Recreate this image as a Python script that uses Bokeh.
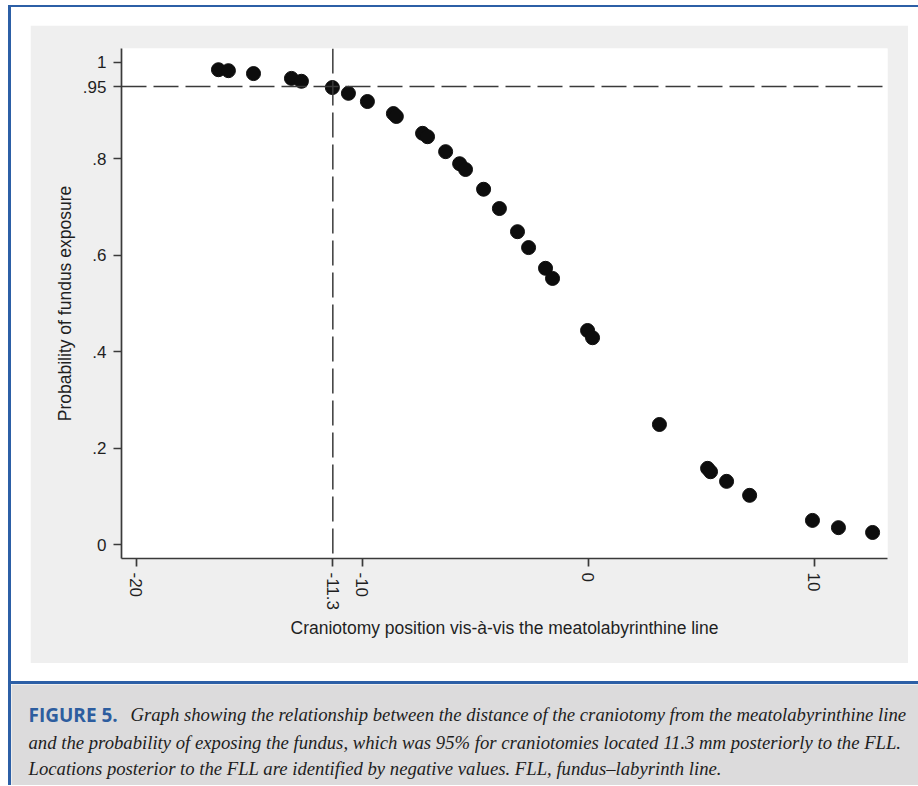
from bokeh.plotting import figure
from bokeh.layouts import row, column
from bokeh.models import Span, Label, FixedTicker, ColumnDataSource, Range1d, Spacer, Div
from bokeh.embed import file_html
from bokeh.resources import INLINE

# ---- data ----
position_mm = [-16.36, -15.92, -14.81, -13.13, -12.69, -11.32, -10.61, -9.77, -8.62, -8.49,
               -7.33, -7.11, -6.31, -5.69, -5.43, -4.63, -3.93, -3.13, -2.64, -1.89,
               -1.58, -0.03, 0.19, 3.15, 5.28, 5.41, 6.12, 7.14, 9.92, 11.07, 12.58]
probability = [0.985, 0.983, 0.977, 0.967, 0.961, 0.948, 0.936, 0.919, 0.894, 0.888,
               0.853, 0.846, 0.815, 0.790, 0.778, 0.737, 0.697, 0.649, 0.616, 0.573,
               0.552, 0.444, 0.429, 0.249, 0.158, 0.151, 0.131, 0.102, 0.050, 0.035, 0.025]
threshold_probability = 0.95
threshold_position = -11.3
x_ticks = [-20, -11.3, -10, 0, 10]
x_tick_labels = ["-20", "-11.3", "-10", "0", "10"]
y_ticks = [0, 0.2, 0.4, 0.6, 0.8, 0.95, 1]
y_tick_labels = ["0", ".2", ".4", ".6", ".8", ".95", "1"]
x_title = "Craniotomy position vis-\u00e0-vis the meatolabyrinthine line"
y_title = "Probability of fundus exposure"
caption_head = "FIGURE 5."
caption_lines = [
    "Graph showing the relationship between the distance of the craniotomy from the meatolabyrinthine line",
    "and the probability of exposing the fundus, which was 95% for craniotomies located 11.3 mm posteriorly to the FLL.",
    "Locations posterior to the FLL are identified by negative values. FLL, fundus\u2013labyrinth line.",
]

PANEL = "#efefef"
CAPTION_BG = "#dcdbdc"
BLUE = "#2c5fa6"
AXIS = "#3a3a3a"
TEXT = "#1f1f1f"
FONT = "Liberation Sans"

# ---- chart panel ----
p = figure(width=878, height=638,
           x_range=Range1d(-20.65, 13.24), y_range=Range1d(-0.029, 1.029),
           output_backend="svg", toolbar_location=None,
           min_border_left=91, min_border_right=21, min_border_top=23, min_border_bottom=105,
           border_fill_color=PANEL, background_fill_color="white", outline_line_color=None)
p.grid.visible = False

p.add_layout(Span(location=threshold_probability, dimension="width",
                  line_color=AXIS, line_width=1.5, line_dash="25 7"))
p.add_layout(Span(location=threshold_position, dimension="height",
                  line_color=AXIS, line_width=1.5, line_dash="25 7"))

src = ColumnDataSource(dict(x=position_mm, y=probability))
p.scatter("x", "y", source=src, size=14, fill_color="#0d0d0d", line_color="#0d0d0d")

p.xaxis.ticker = FixedTicker(ticks=x_ticks)
p.xaxis.major_label_overrides = dict(zip(x_ticks, x_tick_labels))
p.yaxis.ticker = FixedTicker(ticks=y_ticks)
p.yaxis.major_label_overrides = dict(zip(y_ticks, y_tick_labels))
p.xaxis.major_label_orientation = "vertical"
p.xaxis.axis_label = x_title
p.yaxis.axis_label = y_title
for ax in (p.xaxis[0], p.yaxis[0]):
    ax.axis_line_color = AXIS
    ax.axis_line_width = 1.7
    ax.major_tick_line_color = AXIS
    ax.major_tick_line_width = 1.7
    ax.major_tick_out = 8
    ax.major_tick_in = 0
    ax.minor_tick_line_color = None
    ax.major_label_text_font = FONT
    ax.major_label_text_font_size = "17px"
    ax.major_label_text_color = TEXT
    ax.axis_label_text_font = FONT
    ax.axis_label_text_font_size = "17.5px"
    ax.axis_label_text_font_style = "normal"
    ax.axis_label_text_color = TEXT
p.xaxis.major_label_standoff = 6
p.yaxis.major_label_standoff = 7
p.xaxis.axis_label_standoff = 5
p.yaxis.axis_label_standoff = 5

# ---- caption panel ----
CAP_W, CAP_H = 907, 101
cap = figure(width=CAP_W, height=CAP_H, x_range=Range1d(0, CAP_W), y_range=Range1d(CAP_H, 0),
             x_axis_type=None, y_axis_type=None, output_backend="svg", toolbar_location=None,
             min_border=0, border_fill_color=CAPTION_BG, background_fill_color=CAPTION_BG,
             outline_line_color=None)
cap.grid.visible = False
cap.add_layout(Label(x=17, y=30, text=caption_head, text_font="Open Sans", text_font_style="bold",
                     text_font_size="19px", text_color="#2d5d9f", text_baseline="alphabetic"))
cap_pos = [(119, 30), (17, 58), (17, 84)]
for (cx, cy), line in zip(cap_pos, caption_lines):
    cap.add_layout(Label(x=cx, y=cy, text=line, text_font="Liberation Serif",
                         text_font_style="italic", text_font_size="18.7px",
                         text_color="#1e1e1e", text_baseline="alphabetic"))

# ---- page frame: blue rules and white margins ----
top_rule = Div(text="", width=910, height=2, margin=0, styles={"background-color": BLUE})
left_bar = Div(text="", width=3, height=778, margin=0, styles={"background-color": BLUE})
cap_rule = Div(text="", width=CAP_W, height=3, margin=0, styles={"background-color": BLUE})
top_part = column(Spacer(width=897, height=18, margin=0),
                  row(Spacer(width=19, height=638, margin=0), p, spacing=0, margin=0),
                  Spacer(width=897, height=18, margin=0), spacing=0, margin=0)
body = row(left_bar, column(top_part, cap_rule, cap, spacing=0, margin=0), spacing=0, margin=0)
framed = column(Spacer(width=910, height=5, margin=0), top_rule, body, spacing=0, margin=0)
layout = row(Spacer(width=8, height=785, margin=0), framed, spacing=0, margin=0)

open("out.html", "w").write(file_html(layout, INLINE))
